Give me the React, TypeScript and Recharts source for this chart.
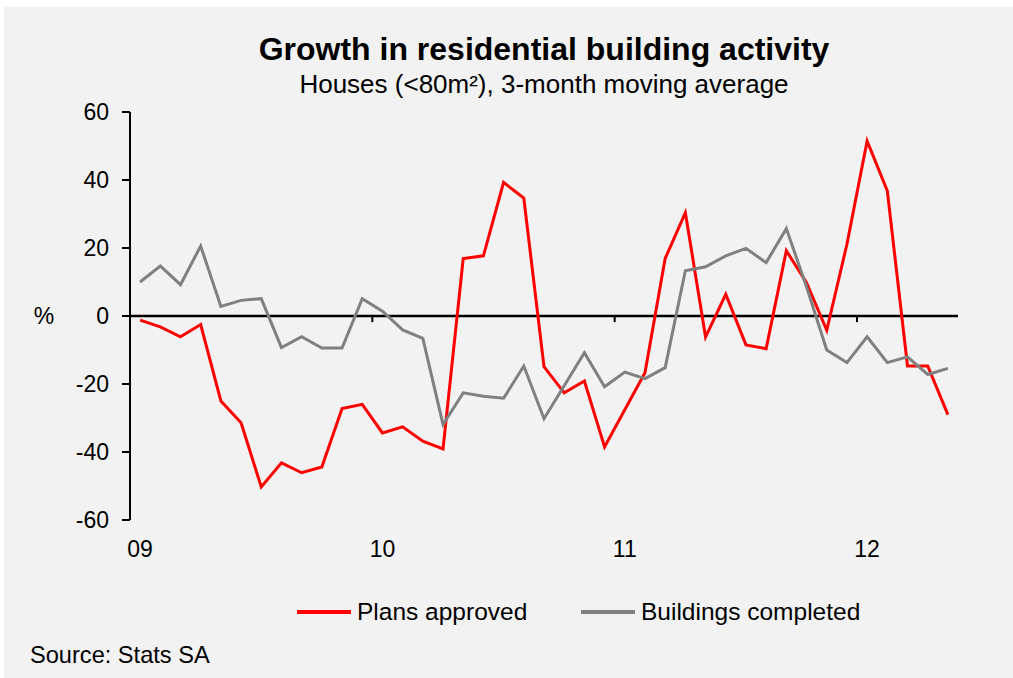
import { Legend, Line, LineChart, ReferenceLine, XAxis, YAxis } from "recharts";

// monthly, Jan 2009 .. May 2012
const plansApproved = [
  -1.2, -3.2, -6.1, -2.5, -25.0, -31.4, -50.3, -43.2, -46.1, -44.4, -27.2, -26.0,
  -34.4, -32.6, -36.8, -39.1, 16.9, 17.7, 39.3, 34.7, -14.9, -22.6, -19.1, -38.5,
  -27.6, -16.7, 16.9, 30.4, -6.2, 6.4, -8.5, -9.6, 19.2, 9.8, -4.2, 21.1,
  51.5, 36.8, -14.7, -14.7, -29.0,
];
const buildingsCompleted = [
  10.0, 14.7, 9.2, 20.6, 2.8, 4.6, 5.1, -9.3, -6.1, -9.4, -9.4, 5.1,
  1.4, -4.1, -6.6, -31.9, -22.6, -23.6, -24.2, -14.7, -30.2, -20.5, -10.8, -20.8,
  -16.5, -18.4, -15.2, 13.3, 14.5, 17.7, 19.9, 15.7, 25.7, 8.6, -10.0, -13.7,
  -6.1, -13.7, -12.0, -17.2, -15.4,
];
const yearLabels = ["09", "10", "11", "12"];
const yearStarts = [0, 12, 24, 36];
const yTicks = [-60, -40, -20, 0, 20, 40, 60];

const seriesNames = { plans: "Plans approved", built: "Buildings completed" };
const RED = "#ff0000";
const GREY = "#808080";
const FONT = "'Liberation Sans', Arial, sans-serif";

const data = plansApproved.map((v, i) => ({
  m: i + 0.5,
  plans: v,
  built: buildingsCompleted[i],
}));

function YTick(props: any) {
  const { x, y, payload } = props;
  return (
    <g>
      <text x={x} y={y} dy="0.355em" textAnchor="end" fontSize={23} fill="#000" fontFamily={FONT}>
        {payload.value}
      </text>
      {payload.value === 0 && (
        <text x={44} y={y} dy="0.355em" textAnchor="middle" fontSize={23} fill="#000" fontFamily={FONT}>
          %
        </text>
      )}
    </g>
  );
}

function LegendBox() {
  const item = (color: string, lineX: number, label: string) => (
    <div style={{ position: "absolute", left: lineX, top: 0, display: "flex", alignItems: "center", height: 28 }}>
      <div style={{ width: 54, height: 4, background: color, marginRight: 6 }} />
      <span style={{ fontSize: 24.5, fontFamily: FONT, color: "#000", whiteSpace: "nowrap" }}>{label}</span>
    </div>
  );
  return (
    <div style={{ position: "relative", width: 1013, height: 30 }}>
      {item(RED, 297, seriesNames.plans)}
      {item(GREY, 581, seriesNames.built)}
    </div>
  );
}

export default function App() {
  return (
    <div style={{ position: "absolute", left: 0, top: 0, width: 1013, height: 678, background: "#fff", overflow: "hidden" }}>
      <div style={{ position: "absolute", left: 4, top: 7, right: 0, bottom: 0, background: "#f2f2f2" }} />
      <div
        style={{
          position: "absolute", left: 0, top: 33, width: 1088, textAlign: "center",
          fontFamily: FONT, fontWeight: "bold", fontSize: 32, lineHeight: "32px", color: "#000",
        }}
      >
        Growth in residential building activity
      </div>
      <div
        style={{
          position: "absolute", left: 0, top: 71, width: 1088, textAlign: "center",
          fontFamily: FONT, fontSize: 26, lineHeight: "26px", color: "#000",
        }}
      >
        Houses (&lt;80m²), 3-month moving average
      </div>
      <div
        style={{
          position: "absolute", left: 30, top: 643, fontFamily: FONT, fontSize: 23.6,
          lineHeight: "24px", color: "#000", whiteSpace: "nowrap",
        }}
      >
        Source: Stats SA
      </div>
      <div style={{ position: "absolute", left: 0, top: 0 }}>
        <LineChart width={1013} height={678} data={data} margin={{ top: 112, right: 55, left: 0, bottom: 98 }}>
          <XAxis
            type="number"
            dataKey="m"
            domain={[0, 41]}
            ticks={yearStarts.map((s) => s + 0.5)}
            tickFormatter={(v: number) => yearLabels[yearStarts.indexOf(v - 0.5)] ?? ""}
            axisLine={false}
            tickLine={false}
            tickSize={0}
            tickMargin={21}
            height={30}
            tick={{ fontSize: 23, fill: "#000", fontFamily: FONT }}
          />
          <YAxis
            type="number"
            domain={[-60, 60]}
            ticks={yTicks}
            width={130}
            tickSize={8}
            tickMargin={13}
            interval={0}
            axisLine={{ stroke: "#000", strokeWidth: 2 }}
            tickLine={{ stroke: "#000", strokeWidth: 2 }}
            tick={<YTick />}
          />
          <ReferenceLine y={0} stroke="#000" strokeWidth={2.5} />
          {yearStarts.slice(1).map((s) => (
            <ReferenceLine
              key={s}
              segment={[{ x: s, y: 0 }, { x: s, y: -1.8 }]}
              stroke="#000"
              strokeWidth={2}
            />
          ))}
          <Legend content={<LegendBox />} wrapperStyle={{ left: 0, top: 598, width: 1013, height: 30 }} />
          <Line
            type="linear"
            dataKey="plans"
            name={seriesNames.plans}
            stroke={RED}
            strokeWidth={3}
            dot={false}
            isAnimationActive={false}
          />
          <Line
            type="linear"
            dataKey="built"
            name={seriesNames.built}
            stroke={GREY}
            strokeWidth={3}
            dot={false}
            isAnimationActive={false}
          />
        </LineChart>
      </div>
    </div>
  );
}
